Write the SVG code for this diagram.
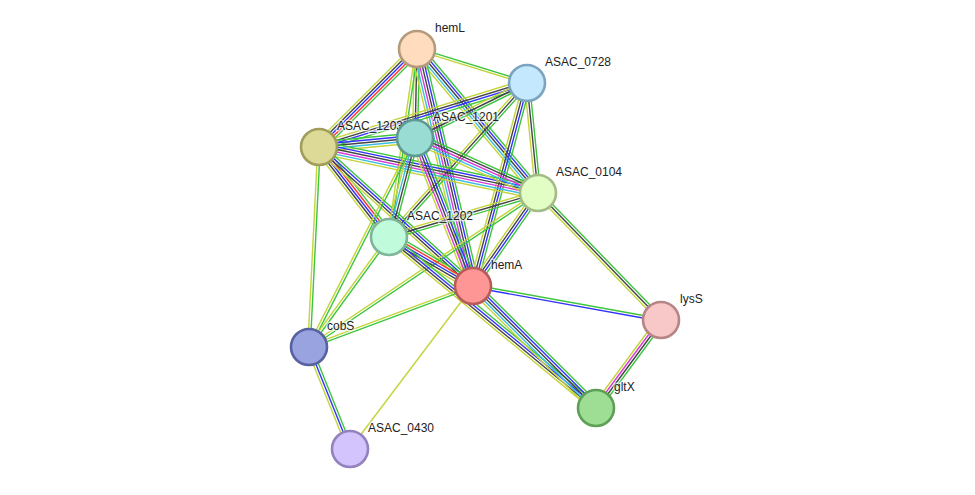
<svg xmlns="http://www.w3.org/2000/svg" xmlns:xlink="http://www.w3.org/1999/xlink" width="975" height="495" viewBox="0 0 975 495">
<style>
line{vector-effect:non-scaling-stroke;stroke-width:1.4;fill:none}
.g{stroke:#3dc63d}.r{stroke:#f33}.b{stroke:#33f}.k{stroke:#444}.m{stroke:#d83ad8}.c{stroke:#38bde0}.y{stroke:#c4d43a}
.n{stroke-width:2.6}
text{font-family:"Liberation Sans",Arial,sans-serif;font-size:12px;fill:#222;paint-order:stroke;stroke:#fff;stroke-width:3px;stroke-opacity:0.6;stroke-linejoin:round}
</style>
<defs>
<g id="s_y"><line x2="1" y1="0" y2="0" class="y"/></g>
<g id="s_gy"><line x2="1" y1="-1.25" y2="-1.25" class="g"/><line x2="1" y1="1.25" y2="1.25" class="y"/></g>
<g id="s_gb"><line x2="1" y1="-1.25" y2="-1.25" class="g"/><line x2="1" y1="1.25" y2="1.25" class="b"/></g>
<g id="s_gky"><line x2="1" y1="-2.5" y2="-2.5" class="g"/><line x2="1" class="k"/><line x2="1" y1="2.5" y2="2.5" class="y"/></g>
<g id="s_gby"><line x2="1" y1="-2.5" y2="-2.5" class="g"/><line x2="1" class="b"/><line x2="1" y1="2.5" y2="2.5" class="y"/></g>
<g id="s_gbky"><line x2="1" y1="-3.75" y2="-3.75" class="g"/><line x2="1" y1="-1.25" y2="-1.25" class="b"/><line x2="1" y1="1.25" y2="1.25" class="k"/><line x2="1" y1="3.75" y2="3.75" class="y"/></g>
<g id="s_gkcy"><line x2="1" y1="-3.75" y2="-3.75" class="g"/><line x2="1" y1="-1.25" y2="-1.25" class="k"/><line x2="1" y1="1.25" y2="1.25" class="c"/><line x2="1" y1="3.75" y2="3.75" class="y"/></g>
<g id="s_gkmy"><line x2="1" y1="-3.75" y2="-3.75" class="g"/><line x2="1" y1="-1.25" y2="-1.25" class="k"/><line x2="1" y1="1.25" y2="1.25" class="m"/><line x2="1" y1="3.75" y2="3.75" class="y"/></g>
<g id="s_grbky"><line x2="1" y1="-5" y2="-5" class="g"/><line x2="1" y1="-2.5" y2="-2.5" class="r"/><line x2="1" class="b"/><line x2="1" y1="2.5" y2="2.5" class="k"/><line x2="1" y1="5" y2="5" class="y"/></g>
<g id="s_gbkcy"><line x2="1" y1="-5" y2="-5" class="g"/><line x2="1" y1="-2.5" y2="-2.5" class="b"/><line x2="1" class="k"/><line x2="1" y1="2.5" y2="2.5" class="c"/><line x2="1" y1="5" y2="5" class="y"/></g>
<g id="s_gbkmy"><line x2="1" y1="-5" y2="-5" class="g"/><line x2="1" y1="-2.5" y2="-2.5" class="b"/><line x2="1" class="k"/><line x2="1" y1="2.5" y2="2.5" class="m"/><line x2="1" y1="5" y2="5" class="y"/></g>
<g id="s_gkmcy"><line x2="1" y1="-5" y2="-5" class="g"/><line x2="1" y1="-2.5" y2="-2.5" class="k"/><line x2="1" class="m"/><line x2="1" y1="2.5" y2="2.5" class="c"/><line x2="1" y1="5" y2="5" class="y"/></g>
<g id="s_gbkmcy"><line x2="1" y1="-6.25" y2="-6.25" class="g"/><line x2="1" y1="-3.75" y2="-3.75" class="b"/><line x2="1" y1="-1.25" y2="-1.25" class="k"/><line x2="1" y1="1.25" y2="1.25" class="m"/><line x2="1" y1="3.75" y2="3.75" class="c"/><line x2="1" y1="6.25" y2="6.25" class="y"/></g>
</defs>
<rect width="975" height="495" fill="#fff"/>
<g id="connectors">
<use xlink:href="#s_gy" transform="matrix(110,34,-0.2953,0.9554,417,49)"/>
<use xlink:href="#s_grbky" transform="matrix(-98,98,-0.7071,-0.7071,417,49)"/>
<use xlink:href="#s_gky" transform="matrix(-2,89,-0.9998,-0.0225,417,49)"/>
<use xlink:href="#s_gbkcy" transform="matrix(121,144,-0.7656,0.6433,417,49)"/>
<use xlink:href="#s_gy" transform="matrix(-28,188,-0.9891,-0.1473,417,49)"/>
<use xlink:href="#s_gbkmcy" transform="matrix(56,237,-0.9732,0.2300,417,49)"/>
<use xlink:href="#s_gbky" transform="matrix(-208,64,-0.2941,-0.9558,527,83)"/>
<use xlink:href="#s_gky" transform="matrix(-112,55,-0.4408,-0.8976,527,83)"/>
<use xlink:href="#s_gky" transform="matrix(11,110,-0.9950,0.0995,527,83)"/>
<use xlink:href="#s_gbky" transform="matrix(-54,203,-0.9664,-0.2571,527,83)"/>
<use xlink:href="#s_gky" transform="matrix(-138,154,-0.7447,-0.6674,527,83)"/>
<use xlink:href="#s_gbkcy" transform="matrix(96,-9,0.0933,0.9956,319,147)"/>
<use xlink:href="#s_gbkmcy" transform="matrix(219,46,-0.2056,0.9786,319,147)"/>
<use xlink:href="#s_grbky" transform="matrix(70,90,-0.7893,0.6139,319,147)"/>
<use xlink:href="#s_gbky" transform="matrix(154,139,-0.6700,0.7423,319,147)"/>
<use xlink:href="#s_gy" transform="matrix(-10,200,-0.9988,-0.0499,319,147)"/>
<use xlink:href="#s_gkmcy" transform="matrix(123,55,-0.4082,0.9129,415,138)"/>
<use xlink:href="#s_gkcy" transform="matrix(-26,99,-0.9672,-0.2540,415,138)"/>
<use xlink:href="#s_gbkmy" transform="matrix(58,148,-0.9311,0.3649,415,138)"/>
<use xlink:href="#s_gy" transform="matrix(-106,209,-0.8919,-0.4523,415,138)"/>
<use xlink:href="#s_gky" transform="matrix(-149,44,-0.2832,-0.9591,538,193)"/>
<use xlink:href="#s_gbky" transform="matrix(-65,93,-0.8197,-0.5729,538,193)"/>
<use xlink:href="#s_gky" transform="matrix(123,127,-0.7183,0.6957,538,193)"/>
<use xlink:href="#s_gy" transform="matrix(-229,154,-0.5580,-0.8298,538,193)"/>
<use xlink:href="#s_grbky" transform="matrix(84,49,-0.5039,0.8638,389,237)"/>
<use xlink:href="#s_gy" transform="matrix(-80,110,-0.8088,-0.5882,389,237)"/>
<use xlink:href="#s_gbky" transform="matrix(207,171,-0.6369,0.7709,389,237)"/>
<use xlink:href="#s_gb" transform="matrix(188,34,-0.1780,0.9840,473,286)"/>
<use xlink:href="#s_gy" transform="matrix(-164,61,-0.3486,-0.9372,473,286)"/>
<use xlink:href="#s_gbkcy" transform="matrix(123,122,-0.7042,0.7100,473,286)"/>
<use xlink:href="#s_y" transform="matrix(-123,163,-0.7982,-0.6023,473,286)"/>
<use xlink:href="#s_gby" transform="matrix(41,102,-0.9279,0.3730,309,347)"/>
<use xlink:href="#s_gkmy" transform="matrix(-65,88,-0.8044,-0.5941,661,320)"/>
</g>
<g id="hemL"><circle class="n" cx="417" cy="49" r="18" fill="#fedcbd" stroke="#b49b7c"/><text x="435" y="32">hemL</text></g>
<g id="ASAC_0728"><circle class="n" cx="527" cy="83" r="18" fill="#c4e8fd" stroke="#7ca3c0"/><text x="545" y="66">ASAC_0728</text></g>
<g id="ASAC_1203"><circle class="n" cx="319" cy="147" r="18" fill="#dcda96" stroke="#a09e5a"/><text x="337" y="130">ASAC_1203</text></g>
<g id="ASAC_1201"><circle class="n" cx="415" cy="138" r="18" fill="#99dcd3" stroke="#5f9a91"/><text x="433" y="121">ASAC_1201</text></g>
<g id="ASAC_0104"><circle class="n" cx="538" cy="193" r="18" fill="#e2fec4" stroke="#a3bb87"/><text x="556" y="176">ASAC_0104</text></g>
<g id="ASAC_1202"><circle class="n" cx="389" cy="237" r="18" fill="#c0fbdc" stroke="#7fb599"/><text x="407" y="220">ASAC_1202</text></g>
<g id="hemA"><circle class="n" cx="473" cy="286" r="18" fill="#fe9696" stroke="#b75a5a"/><text x="491" y="269">hemA</text></g>
<g id="lysS"><circle class="n" cx="661" cy="320" r="18" fill="#f8c8c8" stroke="#b68686"/><text x="680" y="303">lysS</text></g>
<g id="cobS"><circle class="n" cx="309" cy="347" r="18" fill="#99a3e0" stroke="#5862a0"/><text x="327" y="330">cobS</text></g>
<g id="gltX"><circle class="n" cx="596" cy="408" r="18" fill="#9dde94" stroke="#5e9e56"/><text x="614" y="391">gltX</text></g>
<g id="ASAC_0430"><circle class="n" cx="350" cy="449" r="18" fill="#d3c4fd" stroke="#9382be"/><text x="368" y="432">ASAC_0430</text></g>
</svg>
